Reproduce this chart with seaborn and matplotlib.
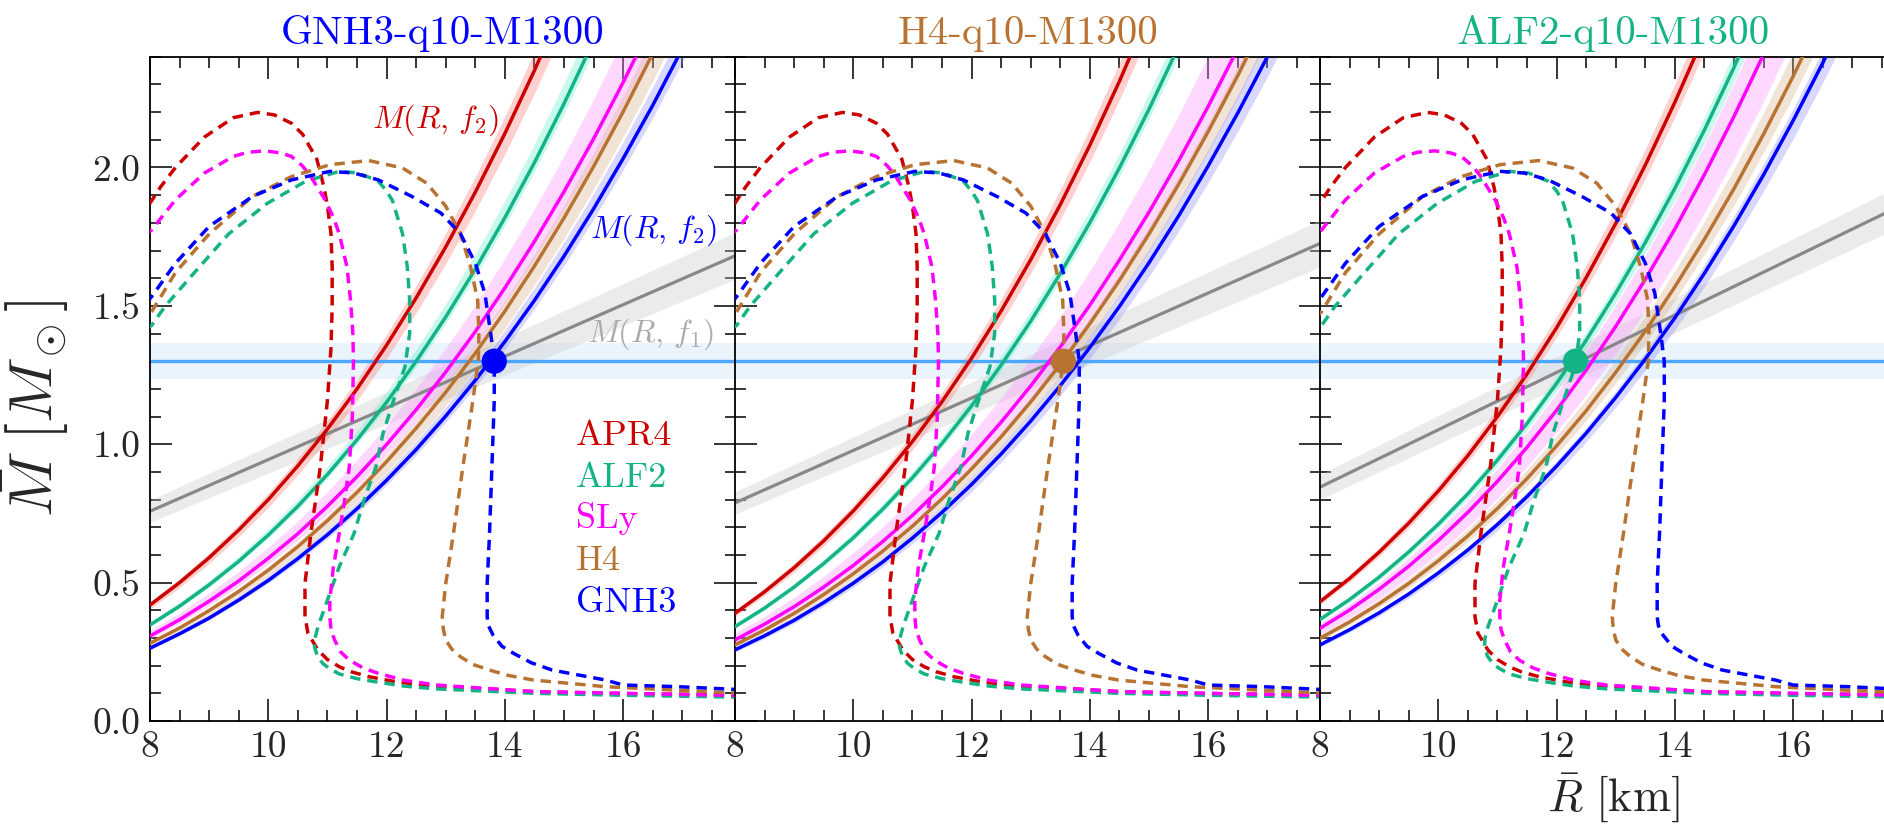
import matplotlib
matplotlib.use("Agg")
import matplotlib.pyplot as plt
import seaborn as sns
from matplotlib.ticker import MultipleLocator, FormatStrFormatter

sns.set_theme(style="ticks")
plt.rcParams.update({
    "font.family": "serif",
    "font.serif": ["cmr10", "DejaVu Serif"],
    "mathtext.fontset": "cm",
    "axes.formatter.use_mathtext": True,
    "axes.unicode_minus": False,
})

# ---- equations of state -------------------------------------------------
eos_names = ["APR4", "ALF2", "SLy", "H4", "GNH3"]
eos_colors = ["#cc0000", "#14b386", "#ff00ff", "#b87333", "#0000ff"]
band_colors = ["#ff7a70", "#5ff0cc", "#ff90ff", "#d9b48f", "#8f8fff"]

# mass-radius sequences (R in km, M in Msun)
r_apr4 = [18.0, 16.0, 14.5, 12.84, 12.2, 11.7, 11.4, 11.2, 11.0, 10.84, 10.67, 10.62, 10.62, 10.72,
          10.88, 11.0, 11.06, 11.08, 11.08, 11.06, 11.0, 10.94, 10.82, 10.58, 10.39, 10.1, 9.82,
          9.41, 8.92, 8.43, 8.18, 8.0, 7.9]
m_apr4 = [0.094, 0.099, 0.106, 0.126, 0.14, 0.16, 0.178, 0.196, 0.222, 0.256, 0.317, 0.377, 0.497,
          0.678, 0.919, 1.16, 1.35, 1.5, 1.64, 1.76, 1.86, 1.93, 2.03, 2.12, 2.16, 2.19, 2.199,
          2.18, 2.11, 2.0, 1.93, 1.871, 1.84]

r_alf2 = [18.0, 16.0, 14.5, 12.84, 12.3, 11.86, 11.5, 11.2, 11.03, 10.92, 10.83, 10.78, 10.79,
          10.84, 11.0, 11.2, 11.45, 11.62, 11.82, 11.94, 12.12, 12.31, 12.39, 12.39, 12.35, 12.27,
          12.1, 12.0, 11.86, 11.53, 11.2, 10.63, 9.98, 9.33, 8.75, 8.26, 8.03, 7.9]
m_alf2 = [0.086, 0.093, 0.10, 0.116, 0.126, 0.14, 0.153, 0.17, 0.19, 0.208, 0.235, 0.268, 0.30,
          0.341, 0.437, 0.558, 0.678, 0.799, 0.919, 1.04, 1.16, 1.28, 1.40, 1.52, 1.64, 1.76,
          1.88, 1.915, 1.95, 1.98, 1.986, 1.95, 1.87, 1.76, 1.62, 1.50, 1.43, 1.41]

r_sly = [18.0, 16.0, 14.5, 12.84, 12.3, 11.86, 11.6, 11.37, 11.22, 11.12, 11.06, 11.04, 11.04, 11.1,
         11.2, 11.29, 11.37, 11.42, 11.44, 11.43, 11.39, 11.33, 11.2, 11.1, 10.96, 10.72, 10.58,
         10.39, 10.2, 9.94, 9.65, 9.41, 8.92, 8.43, 8.03, 7.9]
m_sly = [0.092, 0.10, 0.106, 0.13, 0.147, 0.172, 0.192, 0.22, 0.25, 0.293, 0.33, 0.377, 0.437, 0.557,
         0.678, 0.798, 0.919, 1.1, 1.3, 1.40, 1.52, 1.64, 1.76, 1.82, 1.883, 1.967, 2.005,
         2.04, 2.053, 2.06, 2.055, 2.04, 1.98, 1.883, 1.775, 1.75]

r_h4 = [18.0, 15.7, 14.48, 14.05, 13.74, 13.45, 13.25, 13.1, 13.0, 12.96, 12.94, 13.0, 13.13, 13.29,
        13.46, 13.55, 13.56, 13.54, 13.42, 13.25, 13.0, 12.68, 12.27, 11.7, 11.04, 10.39, 9.73,
        9.0, 8.43, 8.03, 7.9]
m_h4 = [0.10, 0.124, 0.148, 0.165, 0.184, 0.205, 0.232, 0.26, 0.293, 0.33, 0.377, 0.497, 0.678, 0.919,
        1.16, 1.3, 1.40, 1.52, 1.64, 1.76, 1.86, 1.943, 1.998, 2.025, 2.01, 1.967, 1.895,
        1.76, 1.62, 1.48, 1.45]

r_gnh3 = [18.0, 16.93, 16.0, 15.7, 14.8, 14.45, 14.15, 13.95, 13.8, 13.72, 13.7, 13.7, 13.74, 13.78,
          13.82, 13.82, 13.76, 13.66, 13.5, 13.25, 12.92, 12.43, 11.86, 11.45, 11.04, 10.39,
          9.73, 9.0, 8.43, 8.03, 7.9]
m_gnh3 = [0.113, 0.124, 0.13, 0.148, 0.184, 0.21, 0.244, 0.27, 0.31, 0.345, 0.377, 0.497, 0.678,
          0.919, 1.16, 1.3, 1.40, 1.546, 1.654, 1.76, 1.835, 1.895, 1.955, 1.98, 1.986, 1.955,
          1.895, 1.787, 1.654, 1.534, 1.50]

mr_r = [r_apr4, r_alf2, r_sly, r_h4, r_gnh3]
mr_m = [m_apr4, m_alf2, m_sly, m_h4, m_gnh3]

# ---- simulated binaries --------------------------------------------------
run_names = ["GNH3-q10-M1300", "H4-q10-M1300", "ALF2-q10-M1300"]
run_colors = ["#0000ff", "#b87333", "#14b386"]
run_mass = 1.3
run_mass_err = 0.066
run_radius = [13.82, 13.55, 12.32]

# M(R, f2) curves, sampled every 0.5 km from R = 8 km
r_f2 = [8.0, 8.5, 9.0, 9.5, 10.0, 10.5, 11.0, 11.5, 12.0, 12.5, 13.0, 13.5, 14.0, 14.5, 15.0,
        15.5, 16.0, 16.5, 17.0, 17.5]
f2_gnh3_run = {
    "APR4": [0.419, 0.500, 0.590, 0.690, 0.800, 0.922, 1.055, 1.200, 1.358, 1.529, 1.713, 1.911,
             2.123, 2.351, 2.594],
    "ALF2": [0.347, 0.415, 0.492, 0.577, 0.672, 0.776, 0.891, 1.016, 1.152, 1.300, 1.460, 1.633,
             1.819, 2.018, 2.231, 2.458, 2.700],
    "SLy": [0.307, 0.366, 0.433, 0.506, 0.588, 0.677, 0.776, 0.883, 0.999, 1.125, 1.261, 1.407,
            1.565, 1.733, 1.913, 2.104, 2.308, 2.524],
    "H4": [0.281, 0.336, 0.399, 0.468, 0.545, 0.630, 0.724, 0.826, 0.937, 1.058, 1.188, 1.329,
           1.481, 1.644, 1.818, 2.004, 2.202, 2.412, 2.636],
    "GNH3": [0.263, 0.315, 0.372, 0.437, 0.508, 0.587, 0.673, 0.767, 0.870, 0.981, 1.102, 1.231,
             1.371, 1.520, 1.680, 1.851, 2.033, 2.225, 2.430, 2.647],
}
f2_h4_run = {
    "APR4": [0.389, 0.467, 0.554, 0.651, 0.759, 0.879, 1.010, 1.154, 1.311, 1.482, 1.667, 1.866,
             2.081, 2.312, 2.560],
    "ALF2": [0.341, 0.408, 0.484, 0.569, 0.662, 0.766, 0.879, 1.003, 1.139, 1.286, 1.445, 1.617,
             1.801, 1.999, 2.211, 2.438, 2.679],
    "SLy": [0.293, 0.350, 0.413, 0.484, 0.562, 0.649, 0.743, 0.846, 0.958, 1.080, 1.211, 1.352,
            1.503, 1.666, 1.839, 2.024, 2.221, 2.430, 2.651],
    "H4": [0.275, 0.329, 0.389, 0.457, 0.532, 0.614, 0.704, 0.803, 0.911, 1.027, 1.153, 1.289,
           1.436, 1.592, 1.760, 1.939, 2.130, 2.332, 2.547],
    "GNH3": [0.257, 0.308, 0.364, 0.428, 0.498, 0.575, 0.661, 0.754, 0.855, 0.965, 1.084, 1.212,
             1.350, 1.498, 1.656, 1.825, 2.006, 2.197, 2.400, 2.616],
}
f2_alf2_run = {
    "APR4": [0.431, 0.515, 0.610, 0.715, 0.831, 0.959, 1.100, 1.254, 1.421, 1.602, 1.798, 2.009,
             2.236, 2.479, 2.739],
    "ALF2": [0.367, 0.439, 0.520, 0.611, 0.711, 0.821, 0.943, 1.075, 1.220, 1.376, 1.546, 1.729,
             1.925, 2.136, 2.362, 2.603],
    "SLy": [0.335, 0.401, 0.476, 0.559, 0.652, 0.754, 0.866, 0.989, 1.123, 1.268, 1.426, 1.596,
            1.778, 1.975, 2.185, 2.409, 2.649],
    "H4": [0.299, 0.358, 0.424, 0.497, 0.579, 0.669, 0.768, 0.876, 0.994, 1.121, 1.260, 1.409,
           1.569, 1.741, 1.924, 2.121, 2.330, 2.552],
    "GNH3": [0.275, 0.330, 0.391, 0.459, 0.535, 0.618, 0.710, 0.811, 0.921, 1.040, 1.169, 1.308,
             1.457, 1.618, 1.790, 1.974, 2.170, 2.378, 2.599],
}
f2_runs = [f2_gnh3_run, f2_h4_run, f2_alf2_run]

# fractional widths (upper, lower) of the M(R, f2) uncertainty bands
f2_band_gnh3_run = {"APR4": (0.029, 0.035), "ALF2": (0.033, 0.016), "SLy": (0.068, 0.036),
                    "H4": (0.026, 0.041), "GNH3": (0.030, 0.020)}
f2_band_h4_run = {"APR4": (0.029, 0.029), "ALF2": (0.026, 0.016), "SLy": (0.082, 0.041),
                  "H4": (0.015, 0.035), "GNH3": (0.030, 0.030)}
f2_band_alf2_run = {"APR4": (0.029, 0.024), "ALF2": (0.022, 0.022), "SLy": (0.054, 0.070),
                    "H4": (0.037, 0.031), "GNH3": (0.020, 0.030)}
f2_bands = [f2_band_gnh3_run, f2_band_h4_run, f2_band_alf2_run]

# M(R, f1) straight lines: values at R = 8 and 18 km, with band half widths
r_f1 = [8.0, 18.0]
f1_mass = [[0.758, 1.691], [0.788, 1.736], [0.845, 1.881]]
f1_halfwidth = [[0.040, 0.085], [0.040, 0.085], [0.045, 0.075]]

# ---- figure ----------------------------------------------------------------
fig = plt.figure(figsize=(18.84, 8.24), dpi=100)
lefts = [0.07962, 0.39013, 0.70064]
axes = [fig.add_axes([l, 0.1250, 0.31083, 0.8061]) for l in lefts]

for k, ax in enumerate(axes):
    # horizontal band of the binary mass
    ax.axhspan(run_mass - run_mass_err, run_mass + run_mass_err, color="#d6eafc", alpha=0.5,
               lw=0, zorder=0.5)

    # M(R, f1)
    lo = [m - h for m, h in zip(f1_mass[k], f1_halfwidth[k])]
    hi = [m + h for m, h in zip(f1_mass[k], f1_halfwidth[k])]
    ax.fill_between(r_f1, lo, hi, color="#c8c8c8", alpha=0.35, lw=0, zorder=0.6)
    sns.lineplot(x=r_f1, y=f1_mass[k], ax=ax, color="#888888", lw=2.3, zorder=2,
                 sort=False, estimator=None)

    # M(R, f2) for every EOS
    for name, col, bcol in zip(eos_names, eos_colors, band_colors):
        m = f2_runs[k][name]
        r = r_f2[:len(m)]
        up, dn = f2_bands[k][name]
        ax.fill_between(r, [v * (1 - dn) for v in m], [v * (1 + up) for v in m],
                        color=bcol, alpha=0.35, lw=0, zorder=1)
        sns.lineplot(x=r, y=m, ax=ax, color=col, lw=2.5, zorder=3, sort=False, estimator=None)

    ax.axhline(run_mass, color="#4da6ff", lw=2.4, zorder=2.5)

    # mass-radius relations
    for r, m, col in zip(mr_r, mr_m, eos_colors):
        sns.lineplot(x=r, y=m, ax=ax, color=col, lw=2.5, zorder=3.5, sort=False,
                     estimator=None, linestyle=(0, (3.0, 2.0)))

    sns.scatterplot(x=[run_radius[k]], y=[run_mass], ax=ax, s=330, color=run_colors[k],
                    edgecolor="none", zorder=6)

    ax.set_title(run_names[k], color=run_colors[k], fontsize=29.5, pad=9)
    ax.set_xlim(8, 17.9)
    ax.set_ylim(0, 2.4)
    ax.xaxis.set_major_locator(MultipleLocator(2))
    ax.xaxis.set_minor_locator(MultipleLocator(0.5))
    ax.yaxis.set_major_locator(MultipleLocator(0.5))
    ax.yaxis.set_minor_locator(MultipleLocator(0.1))
    ax.xaxis.set_major_formatter(FormatStrFormatter("%d"))
    ax.yaxis.set_major_formatter(FormatStrFormatter("%.1f"))
    ax.tick_params(which="both", direction="in", top=True, right=True, color="black",
                   width=1.1, labelsize=27, pad=7)
    ax.tick_params(which="major", length=16)
    ax.tick_params(which="minor", length=8)
    for sp in ax.spines.values():
        sp.set_linewidth(1.3)
        sp.set_color("black")
    ax.set_xlabel("")
    ax.set_ylabel("")
    if k > 0:
        ax.tick_params(labelleft=False)

# labels of the EOS
a0 = axes[0]
legend_mass = [0.997, 0.846, 0.697, 0.546, 0.394]
for name, col, mv in zip(eos_names, eos_colors, legend_mass):
    a0.text(15.2, mv, name, color=col, fontsize=26, ha="left", va="baseline", zorder=7)

a0.text(13.9, 2.17, r"$M(R,\,f_2)$", color="#cc0000", fontsize=23, ha="right", va="center")
a0.text(17.58, 1.774, r"$M(R,\,f_2)$", color="#0000ff", fontsize=23, ha="right", va="center")
a0.text(17.54, 1.399, r"$M(R,\,f_1)$", color="#aaaaaa", fontsize=23, ha="right", va="center")

a0.set_ylabel(r"$\bar{M}\ [M_\odot]$", fontsize=44)
a0.yaxis.set_label_coords(-0.135, 0.47)
axes[2].set_xlabel(r"$\bar{R}\ [\mathrm{km}]$", fontsize=33, labelpad=5)

fig.savefig("out.png", dpi=100)
